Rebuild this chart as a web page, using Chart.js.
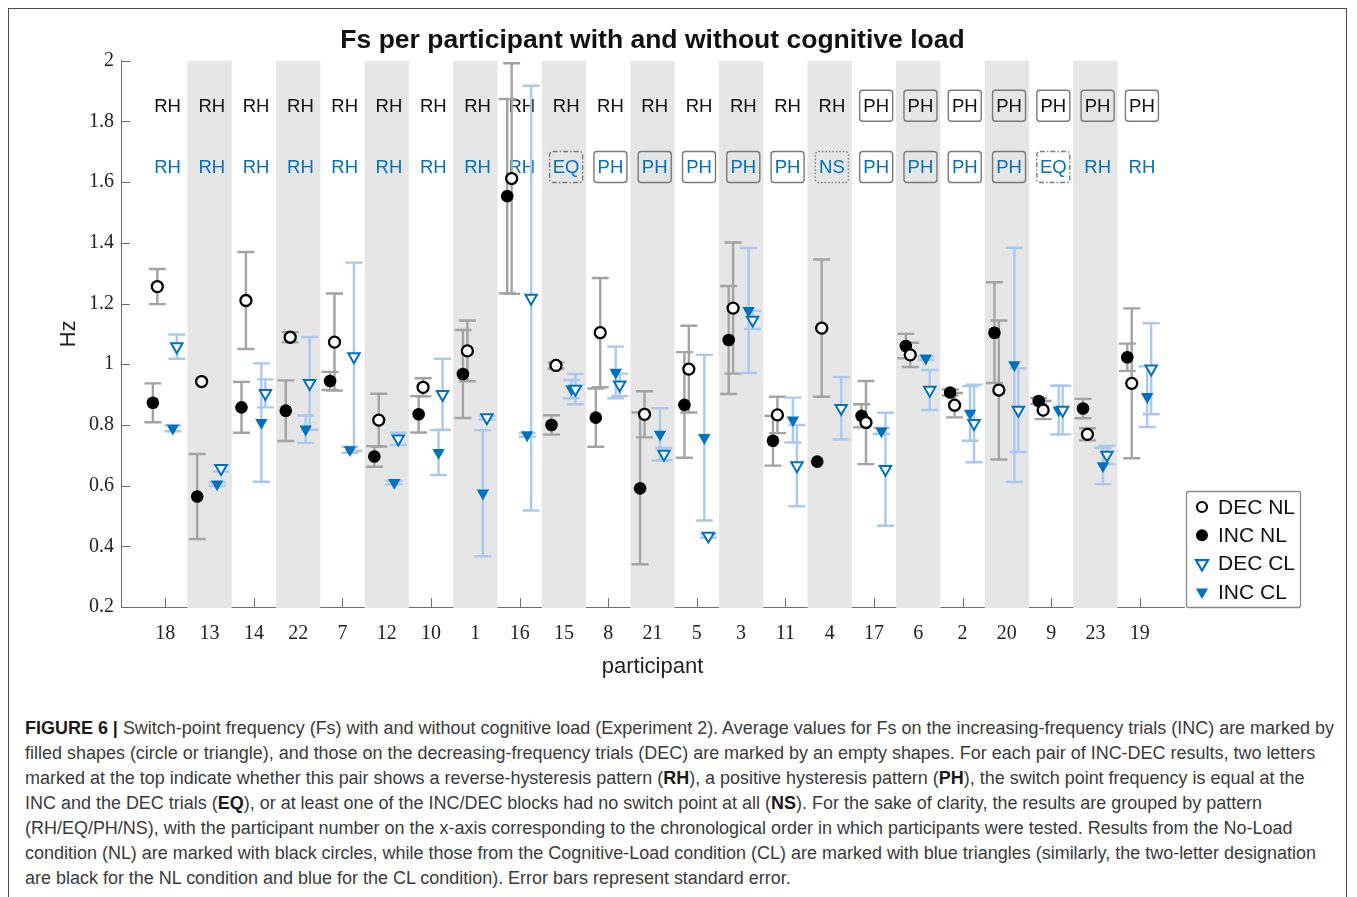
<!DOCTYPE html>
<html>
<head>
<meta charset="utf-8">
<script src="https://cdn.jsdelivr.net/npm/chart.js@4.4.1/dist/chart.umd.min.js"></script>
<style>
  html, body { margin: 0; padding: 0; background: #fff; }
  #wrap { position: relative; width: 1357px; height: 897px; overflow: hidden; }
  #frame { position: absolute; left: 8px; top: 8px; width: 1339px; height: 940px; border: 1px solid #4d4d4d; box-sizing: border-box; pointer-events: none; }
  #chartBox { position: absolute; left: 0; top: 0; width: 1357px; height: 700px; }
  #caption { position: absolute; left: 25px; top: 716px; font-family: "Liberation Sans Narrow", "Arial Narrow", "Liberation Sans", sans-serif; font-size: 17px; line-height: 25px; color: #3a3a3a; white-space: nowrap; }
  #caption b { color: #1a1a1a; }
  #caption div span.line { display: inline-block; }
</style>
</head>
<body>
<div id="wrap">
  <div id="chartBox"><canvas id="fsChart" width="1357" height="700"></canvas></div>
  <div id="caption">
    <div><span class="line" id="firstLine"><b>FIGURE 6 |</b> Switch-point frequency (Fs) with and without cognitive load (Experiment 2). Average values for Fs on the increasing-frequency trials (INC) are marked by</span></div>
    <div>filled shapes (circle or triangle), and those on the decreasing-frequency trials (DEC) are marked by an empty shapes. For each pair of INC-DEC results, two letters</div>
    <div>marked at the top indicate whether this pair shows a reverse-hysteresis pattern (<b>RH</b>), a positive hysteresis pattern (<b>PH</b>), the switch point frequency is equal at the</div>
    <div>INC and the DEC trials (<b>EQ</b>), or at least one of the INC/DEC blocks had no switch point at all (<b>NS</b>). For the sake of clarity, the results are grouped by pattern</div>
    <div>(RH/EQ/PH/NS), with the participant number on the x-axis corresponding to the chronological order in which participants were tested. Results from the No-Load</div>
    <div>condition (NL) are marked with black circles, while those from the Cognitive-Load condition (CL) are marked with blue triangles (similarly, the two-letter designation</div>
    <div>are black for the NL condition and blue for the CL condition). Error bars represent standard error.</div>
  </div>
  <div id="frame"></div>
</div>
<script>
// participants, grouped by pattern (order as on the x axis)
const participants = ['18','13','14','22','7','12','10','1','16','15','8','21','5','3','11','4','17','6','2','20','9','23','19'];

// No-Load condition (Hz) and standard errors
const decNL    = [1.256, 0.943, 1.21, 1.089, 1.073, 0.816, 0.924, 1.044, 1.612, 0.996, 1.104, 0.835, 0.984, 1.185, 0.833, 1.119, 0.808, 1.031, 0.865, 0.915, 0.849, 0.769, 0.937];
const decNLErr = [0.058, 0,     0.16, 0.017, 0.16,  0.087, 0.03,  0.1,   0.38,  0.01,  0.18,  0.076, 0.143, 0.216, 0.06,  0.226, 0.137, 0.04,  0.04,  0.229, 0.03,  0.02,  0.247];
const incNL    = [0.873, 0.564, 0.858, 0.847, 0.945, 0.696, 0.835, 0.968, 1.554, 0.8,   0.824, 0.591, 0.866, 1.08,  0.748, 0.679, 0.83,  1.06,  0.907, 1.104, 0.879, 0.854, 1.023];
const incNLErr = [0.064, 0.14,  0.084, 0.1,   0.03,  0.034, 0.06,  0.145, 0.32,  0.032, 0.096, 0.25,  0.174, 0.178, 0.082, 0,     0.038, 0.04,  0.01,  0.166, 0.01,  0.032, 0.045];

// Cognitive-Load condition (Hz) and standard errors
const decCL    = [1.058, 0.657, 0.904, 0.937, 1.025, 0.754, 0.901, 0.824, 1.218, 0.918, 0.932, 0.704, 0.434, 1.146, 0.666, 0.855, 0.654, 0.915, 0.805, 0.849, 0.849, 0.701, 0.985];
const decCLErr = [0.04,  0.01,  0.046, 0.153, 0.31,  0.02,  0.117, 0.006, 0.7,   0.05,  0.037, 0.02,  0.006, 0.03,  0.134, 0.103, 0.186, 0.066, 0.128, 0.138, 0.08,  0.03,  0.15];
const incCL    = [0.789, 0.605, 0.808, 0.786, 0.718, 0.61,  0.709, 0.575, 0.767, 0.918, 0.973, 0.769, 0.758, 1.177, 0.816, null,  0.78,  1.02,  0.838, 0.998, 0.849, 0.665, 0.893];
const incCLErr = [0.01,  0.006, 0.195, 0.045, 0.01,  0.006, 0.074, 0.208, 0.006, 0.03,  0.085, 0.086, 0.273, 0.206, 0.074, 0,     0.01,  0.006, 0.09,  0.386, 0.08,  0.06,  0.1];

// pattern letters shown at the top (black = NL, blue = CL)
const nlPattern = ['RH','RH','RH','RH','RH','RH','RH','RH','RH','RH','RH','RH','RH','RH','RH','RH','PH','PH','PH','PH','PH','PH','PH'];
const clPattern = ['RH','RH','RH','RH','RH','RH','RH','RH','RH','EQ','PH','PH','PH','PH','PH','NS','PH','PH','PH','PH','EQ','RH','RH'];

const yTicks = [0.2, 0.4, 0.6, 0.8, 1, 1.2, 1.4, 1.6, 1.8, 2];

const BLUE = '#0072BD';
const NL_BAR = '#a3a3a3';
const CL_BAR = '#a9c9f0';
const BAND = '#e6e6e6';
const AXIS = '#6e6e6e';
const TICK_FONT = '"Liberation Serif", "DejaVu Serif", serif';
const SANS = '"Liberation Sans", Arial, sans-serif';

// horizontal offsets of each series inside a participant column
const OFF_INC_NL = -0.28, OFF_DEC_NL = -0.18, OFF_INC_CL = 0.17, OFF_DEC_CL = 0.26;

function toPoints(vals, off) {
  const pts = [];
  vals.forEach((v, i) => { if (v !== null) pts.push({ x: i + 1 + off, y: v }); });
  return pts;
}

const errorSeries = [
  { vals: incNL, errs: incNLErr, off: OFF_INC_NL, color: NL_BAR },
  { vals: decNL, errs: decNLErr, off: OFF_DEC_NL, color: NL_BAR },
  { vals: incCL, errs: incCLErr, off: OFF_INC_CL, color: CL_BAR },
  { vals: decCL, errs: decCLErr, off: OFF_DEC_CL, color: CL_BAR }
];

// grey bands, inward ticks, error bars and the pattern letters
const backdropPlugin = {
  id: 'backdrop',
  beforeDatasetsDraw(chart) {
    const { ctx, chartArea: area, scales: { x, y } } = chart;
    ctx.save();
    // inward ticks
    ctx.strokeStyle = AXIS;
    ctx.lineWidth = 1;
    yTicks.forEach(v => {
      const py = Math.round(y.getPixelForValue(v)) + 0.5;
      ctx.beginPath(); ctx.moveTo(area.left, py); ctx.lineTo(area.left + 9, py); ctx.stroke();
    });
    participants.forEach((p, i) => {
      const px = Math.round(x.getPixelForValue(i + 1)) + 0.5;
      ctx.beginPath(); ctx.moveTo(px, area.bottom); ctx.lineTo(px, area.bottom - 9); ctx.stroke();
    });
    // alternating bands
    ctx.fillStyle = BAND;
    participants.forEach((p, i) => {
      if (i % 2 === 1) {
        const l = x.getPixelForValue(i + 0.5), r = x.getPixelForValue(i + 1.5);
        const t = y.getPixelForValue(2), b = y.getPixelForValue(0.2);
        ctx.fillRect(l, t, r - l, b - t + 1);
      }
    });
    // pattern letters
    ctx.font = '18.5px ' + SANS;
    ctx.textAlign = 'center';
    ctx.textBaseline = 'middle';
    const drawRow = (pattern, value, color) => {
      pattern.forEach((code, i) => {
        const cx = x.getPixelForValue(i + 1.05);
        const cy = y.getPixelForValue(value);
        if (code !== 'RH') {
          ctx.save();
          ctx.strokeStyle = '#7a7a7a';
          ctx.lineWidth = 1.4;
          if (code === 'EQ') ctx.setLineDash([5, 2, 1.5, 2]);
          if (code === 'NS') ctx.setLineDash([1.5, 2]);
          ctx.beginPath();
          ctx.roundRect(cx - 16.5, cy - 15.5, 33, 31, 3);
          ctx.stroke();
          ctx.restore();
        }
        ctx.fillStyle = color;
        ctx.fillText(code, cx, cy + 1);
      });
    };
    drawRow(nlPattern, 1.852, '#111');
    drawRow(clPattern, 1.65, BLUE);
    // error bars
    ctx.lineWidth = 2.4;
    errorSeries.forEach(s => {
      ctx.strokeStyle = s.color;
      s.vals.forEach((v, i) => {
        const e = s.errs[i];
        if (v === null || !e) return;
        const px = x.getPixelForValue(i + 1 + s.off);
        const top = y.getPixelForValue(v + e), bot = y.getPixelForValue(v - e);
        ctx.beginPath();
        ctx.moveTo(px, top); ctx.lineTo(px, bot);
        ctx.moveTo(px - 8.5, top); ctx.lineTo(px + 8.5, top);
        ctx.moveTo(px - 8.5, bot); ctx.lineTo(px + 8.5, bot);
        ctx.stroke();
      });
    });
    ctx.restore();
  }
};

// boxed legend to the right of the axes, bottom aligned
const legendPlugin = {
  id: 'boxLegend',
  afterDraw(chart) {
    const { ctx, chartArea: area } = chart;
    const left = area.right + 2, w = 114, h = 116, top = area.bottom - h;
    ctx.save();
    ctx.fillStyle = '#fff';
    ctx.strokeStyle = '#8a8a8a';
    ctx.lineWidth = 1.3;
    ctx.beginPath();
    ctx.roundRect(left + 0.5, top + 0.5, w, h, 2);
    ctx.fill(); ctx.stroke();
    ctx.font = '21px ' + SANS;
    ctx.textBaseline = 'middle';
    chart.data.datasets.forEach((ds, k) => {
      const cy = top + 16 + k * 28.3;
      const cx = left + 16;
      ctx.lineWidth = 2.2;
      ctx.strokeStyle = ds.borderColor;
      ctx.fillStyle = ds.backgroundColor;
      ctx.beginPath();
      if (ds.pointStyle === 'circle') {
        ctx.arc(cx, cy, ds.pointBorderWidth ? 5 : 6, 0, Math.PI * 2);
      } else {
        const r = 7;
        ctx.moveTo(cx - r * 0.866, cy - r / 2);
        ctx.lineTo(cx + r * 0.866, cy - r / 2);
        ctx.lineTo(cx, cy + r);
        ctx.closePath();
      }
      ctx.fill();
      if (ds.pointBorderWidth) ctx.stroke();
      ctx.fillStyle = '#111';
      ctx.fillText(ds.label, left + 32, cy + 1);
    });
    ctx.restore();
  }
};

new Chart(document.getElementById('fsChart'), {
  type: 'scatter',
  data: {
    datasets: [
      { label: 'DEC NL', data: toPoints(decNL, OFF_DEC_NL), pointStyle: 'circle', pointRadius: 5.5, pointBorderWidth: 2.3, borderColor: '#000', backgroundColor: '#fff' },
      { label: 'INC NL', data: toPoints(incNL, OFF_INC_NL), pointStyle: 'circle', pointRadius: 6.3, pointBorderWidth: 0, borderColor: '#000', backgroundColor: '#000' },
      { label: 'DEC CL', data: toPoints(decCL, OFF_DEC_CL), pointStyle: 'triangle', pointRotation: 180, pointRadius: 6.6, pointBorderWidth: 2, borderColor: BLUE, backgroundColor: '#fff' },
      { label: 'INC CL', data: toPoints(incCL, OFF_INC_CL), pointStyle: 'triangle', pointRotation: 180, pointRadius: 7.2, pointBorderWidth: 0, borderColor: BLUE, backgroundColor: BLUE }
    ]
  },
  options: {
    responsive: false,
    animation: false,
    events: [],
    layout: { padding: { left: 0, right: 173, top: 0, bottom: 0 } },
    plugins: {
      legend: { display: false },
      tooltip: { enabled: false },
      title: {
        display: true,
        fullSize: false,
        text: 'Fs per participant with and without cognitive load',
        color: '#111',
        font: { family: SANS, size: 26.5, weight: 'bold' },
        padding: { top: 25, bottom: 4 }
      }
    },
    scales: {
      x: {
        type: 'linear',
        min: 0,
        max: 24,
        afterFit(scale) { scale.height = 93; },
        grid: { display: false, drawTicks: false },
        border: { display: true, color: AXIS, width: 1 },
        ticks: {
          stepSize: 1,
          autoSkip: false,
          maxRotation: 0,
          maxTicksLimit: 40,
          padding: 15,
          color: '#222',
          font: { family: TICK_FONT, size: 20 },
          callback: v => participants[Math.round(v) - 1] || ''
        },
        title: {
          display: true,
          text: 'participant',
          color: '#222',
          font: { family: SANS, size: 22 },
          padding: { top: 0, bottom: 20 }
        }
      },
      y: {
        min: 0.2,
        max: 2,
        afterFit(scale) { scale.width = 121; },
        grid: { display: false, drawTicks: false },
        border: { display: true, color: AXIS, width: 1 },
        ticks: {
          stepSize: 0.2,
          padding: 7,
          color: '#222',
          font: { family: TICK_FONT, size: 20 },
          callback: v => String(Math.round(v * 10) / 10)
        },
        title: {
          display: true,
          text: 'Hz',
          color: '#222',
          font: { family: SANS, size: 22 },
          padding: { top: 56, bottom: 0 }
        }
      }
    }
  },
  plugins: [backdropPlugin, legendPlugin]
});

// fit the caption font so the first line spans the same width as the figure text
const first = document.getElementById('firstLine');
const target = 1310;
const cap = document.getElementById('caption');
const w0 = first.getBoundingClientRect().width;
if (w0 > 0) cap.style.fontSize = (17 * target / w0).toFixed(2) + 'px';
</script>
</body>
</html>
